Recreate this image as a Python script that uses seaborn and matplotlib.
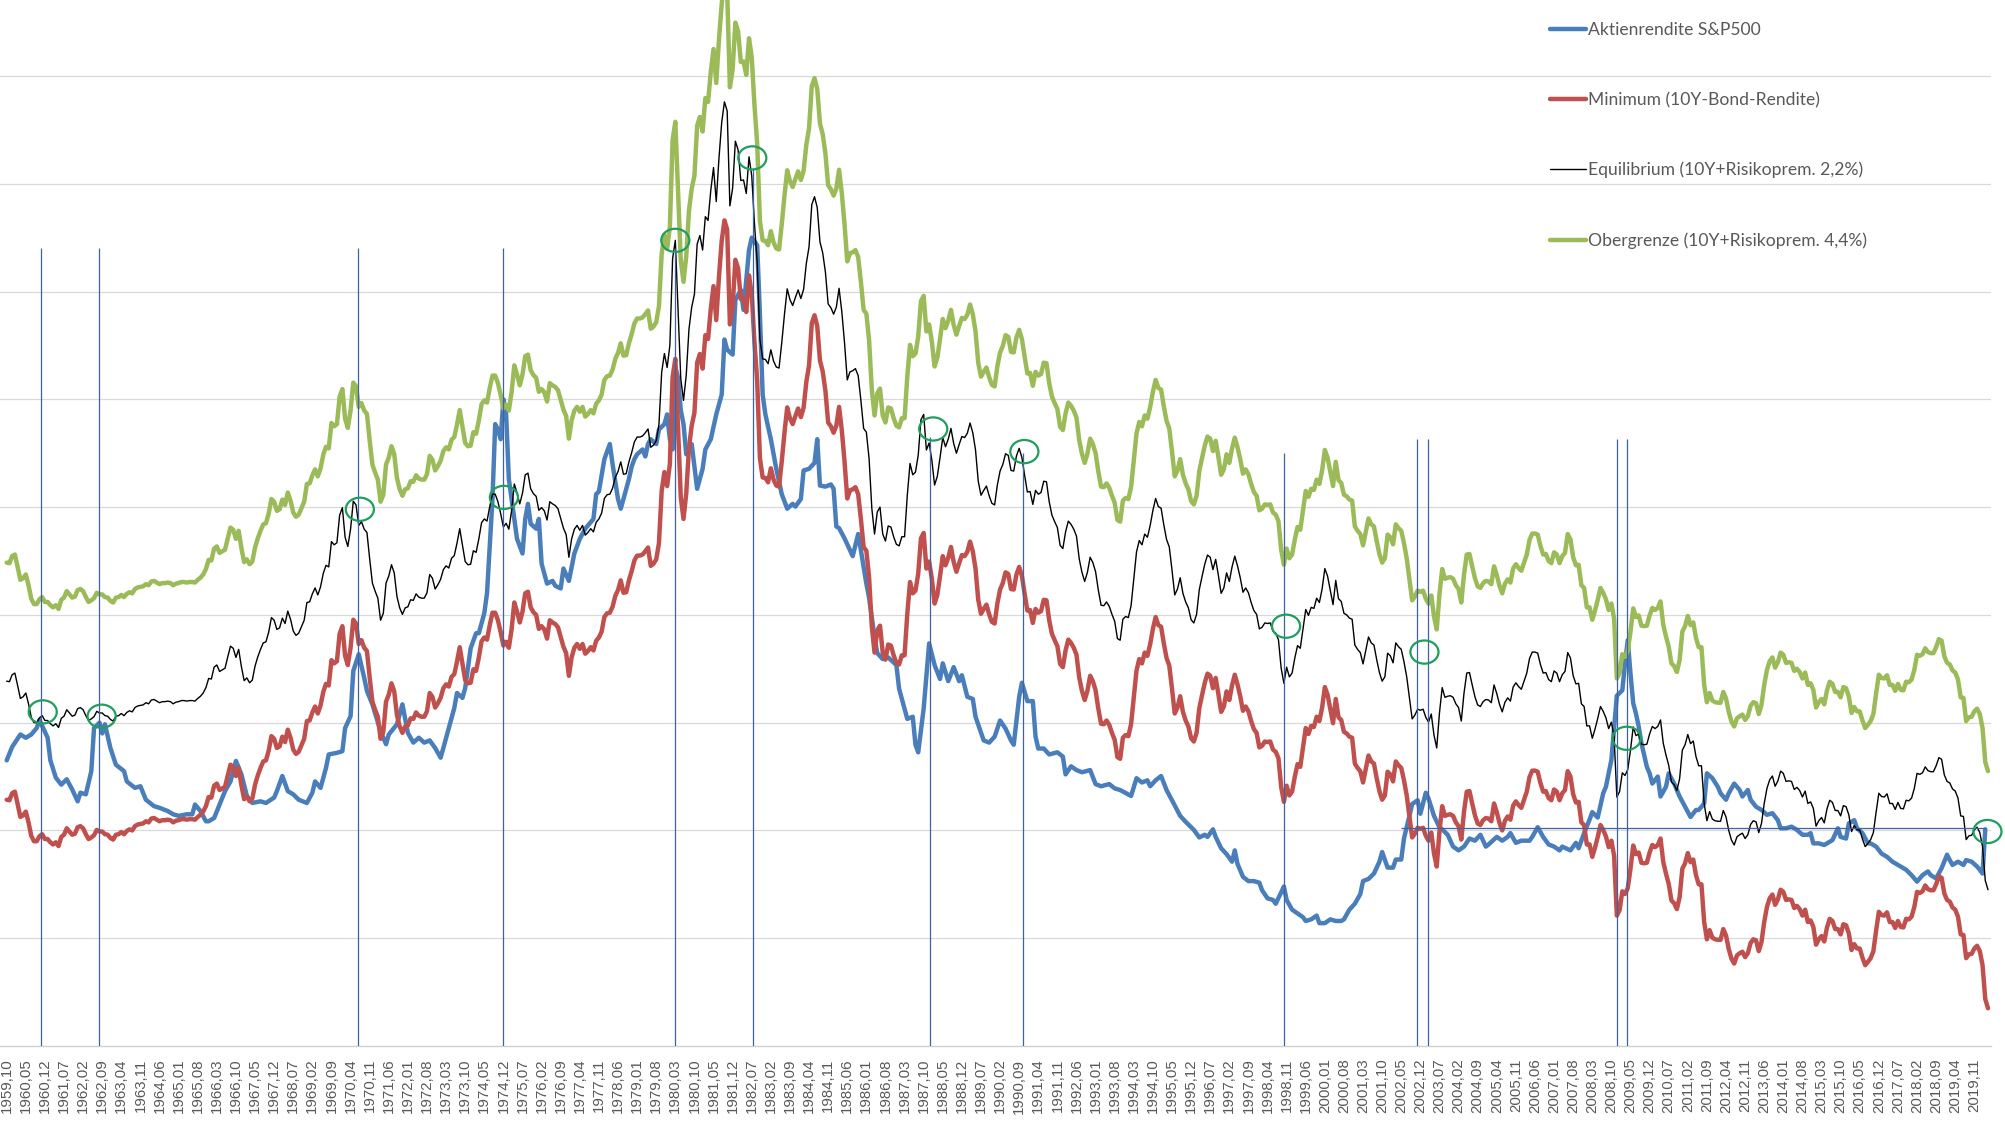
import numpy as np
import pandas as pd
import matplotlib
matplotlib.use("Agg")
import matplotlib.pyplot as plt
import seaborn as sns
from matplotlib.patches import Ellipse
from matplotlib.lines import Line2D

# ---------------- data ----------------
START_YEAR, START_MONTH = 1959, 10   # first category: 1959,10 (monthly until 2020,04)

# 10Y bond yield (%), monthly, 1959,10 .. 2020,04
bond_yield = [
    4.57, 4.56, 4.69,                                                       # 1959 Oct-Dec
    4.72, 4.49, 4.25, 4.28, 4.35, 4.15, 3.90, 3.80, 3.80, 3.89, 3.93, 3.84,  # 1960
    3.84, 3.78, 3.74, 3.78, 3.71, 3.88, 3.92, 4.04, 3.98, 3.92, 3.94, 4.06,  # 1961
    4.08, 4.04, 3.93, 3.84, 3.87, 3.91, 4.01, 3.98, 3.98, 3.93, 3.92, 3.86,  # 1962
    3.83, 3.92, 3.93, 3.97, 3.93, 3.99, 4.02, 4.00, 4.08, 4.11, 4.12, 4.13,  # 1963
    4.17, 4.15, 4.22, 4.23, 4.20, 4.17, 4.19, 4.19, 4.20, 4.19, 4.15, 4.18,  # 1964
    4.19, 4.21, 4.21, 4.20, 4.21, 4.21, 4.20, 4.25, 4.29, 4.35, 4.45, 4.62,  # 1965
    4.61, 4.83, 4.87, 4.75, 4.78, 4.81, 5.02, 5.22, 5.18, 5.01, 5.16, 4.84,  # 1966
    4.58, 4.63, 4.54, 4.59, 4.85, 5.02, 5.16, 5.28, 5.30, 5.48, 5.75, 5.70,  # 1967
    5.53, 5.56, 5.74, 5.64, 5.87, 5.72, 5.50, 5.42, 5.46, 5.58, 5.70, 6.03,  # 1968
    6.04, 6.19, 6.30, 6.17, 6.32, 6.57, 6.72, 6.69, 7.16, 7.10, 7.14, 7.65,  # 1969
    7.79, 7.24, 7.07, 7.39, 7.91, 7.84, 7.46, 7.53, 7.39, 7.33, 6.84, 6.39,  # 1970
    6.24, 6.11, 5.70, 5.83, 6.39, 6.52, 6.73, 6.58, 6.14, 5.93, 5.81, 5.93,  # 1971
    5.95, 6.08, 6.07, 6.19, 6.13, 6.11, 6.11, 6.21, 6.55, 6.48, 6.28, 6.36,  # 1972
    6.46, 6.64, 6.71, 6.67, 6.85, 6.90, 7.13, 7.40, 7.09, 6.79, 6.73, 6.74,  # 1973
    6.99, 6.96, 7.21, 7.51, 7.58, 7.54, 7.81, 8.04, 8.04, 7.90, 7.68, 7.43,  # 1974
    7.50, 7.39, 7.73, 8.23, 8.06, 7.86, 8.06, 8.40, 8.43, 8.14, 8.05, 8.00,  # 1975
    7.74, 7.79, 7.73, 7.56, 7.90, 7.86, 7.83, 7.77, 7.59, 7.41, 7.29, 6.87,  # 1976
    7.21, 7.39, 7.46, 7.37, 7.46, 7.28, 7.33, 7.40, 7.34, 7.52, 7.58, 7.69,  # 1977
    7.96, 8.03, 8.04, 8.15, 8.35, 8.46, 8.64, 8.41, 8.42, 8.64, 8.81, 9.01,  # 1978
    9.10, 9.10, 9.12, 9.18, 9.25, 8.91, 8.95, 9.03, 9.33, 10.30, 10.65, 10.39,  # 1979
    10.80, 12.41, 12.75, 11.47, 10.18, 9.78, 10.25, 11.10, 11.51, 11.75, 12.68, 12.84,  # 1980
    12.57, 13.19, 13.12, 13.68, 14.10, 13.47, 14.28, 14.94, 15.32, 15.15, 13.39, 13.72,  # 1981
    14.59, 14.43, 13.86, 13.87, 13.62, 14.30, 13.95, 13.06, 12.34, 10.91, 10.55, 10.54,  # 1982
    10.46, 10.72, 10.51, 10.40, 10.38, 10.85, 11.38, 11.85, 11.65, 11.54, 11.69, 11.83,  # 1983
    11.67, 11.84, 12.32, 12.63, 13.41, 13.56, 13.36, 12.72, 12.52, 12.16, 11.57, 11.50,  # 1984
    11.38, 11.51, 11.86, 11.43, 10.85, 10.16, 10.31, 10.33, 10.37, 10.24, 9.78, 9.26,   # 1985
    9.19, 8.70, 7.78, 7.30, 7.71, 7.80, 7.30, 7.17, 7.45, 7.43, 7.25, 7.11,  # 1986
    7.08, 7.25, 7.25, 8.02, 8.61, 8.40, 8.45, 8.76, 9.42, 9.52, 8.86, 8.99,  # 1987
    8.67, 8.21, 8.37, 8.72, 9.09, 8.92, 9.06, 9.26, 8.98, 8.80, 8.96, 9.11,  # 1988
    9.09, 9.17, 9.36, 9.18, 8.86, 8.28, 8.02, 8.11, 8.19, 8.01, 7.87, 7.84,  # 1989
    8.21, 8.47, 8.59, 8.79, 8.76, 8.48, 8.47, 8.75, 8.89, 8.72, 8.39, 8.08,  # 1990
    8.09, 7.85, 8.11, 8.04, 8.07, 8.28, 8.27, 7.90, 7.65, 7.53, 7.42, 7.09,  # 1991
    7.03, 7.34, 7.54, 7.48, 7.39, 7.26, 6.84, 6.59, 6.42, 6.59, 6.87, 6.77,  # 1992
    6.60, 6.26, 5.98, 5.97, 6.04, 5.96, 5.81, 5.68, 5.36, 5.33, 5.72, 5.77,  # 1993
    5.75, 5.97, 6.48, 6.97, 7.18, 7.10, 7.30, 7.24, 7.46, 7.74, 7.96, 7.81,  # 1994
    7.78, 7.47, 7.20, 7.06, 6.63, 6.17, 6.28, 6.49, 6.20, 6.04, 5.93, 5.71,  # 1995
    5.65, 5.81, 6.27, 6.51, 6.74, 6.91, 6.87, 6.64, 6.83, 6.53, 6.20, 6.30,  # 1996
    6.58, 6.42, 6.69, 6.89, 6.71, 6.49, 6.22, 6.30, 6.21, 6.03, 5.88, 5.81,  # 1997
    5.54, 5.57, 5.65, 5.64, 5.65, 5.50, 5.46, 5.34, 4.81, 4.53, 4.83, 4.65,  # 1998
    4.72, 5.00, 5.23, 5.18, 5.54, 5.90, 5.79, 5.94, 5.92, 6.11, 6.03, 6.28,  # 1999
    6.66, 6.52, 6.26, 5.99, 6.44, 6.10, 6.05, 5.83, 5.80, 5.74, 5.72, 5.24,  # 2000
    5.16, 5.10, 4.89, 5.14, 5.39, 5.28, 5.24, 4.97, 4.73, 4.57, 4.65, 5.09,  # 2001
    5.04, 4.91, 5.28, 5.21, 5.16, 4.93, 4.65, 4.26, 3.87, 3.94, 4.05, 4.03,  # 2002
    4.05, 3.90, 3.81, 3.96, 3.57, 3.33, 3.98, 4.45, 4.27, 4.29, 4.30, 4.27,  # 2003
    4.15, 4.08, 3.83, 4.35, 4.72, 4.73, 4.50, 4.28, 4.13, 4.10, 4.19, 4.23,  # 2004
    4.22, 4.17, 4.50, 4.34, 4.14, 4.00, 4.18, 4.26, 4.20, 4.46, 4.54, 4.47,  # 2005
    4.42, 4.57, 4.72, 4.99, 5.11, 5.11, 5.09, 4.88, 4.72, 4.73, 4.60, 4.56,  # 2006
    4.76, 4.72, 4.56, 4.69, 4.75, 5.10, 5.00, 4.67, 4.52, 4.53, 4.15, 4.10,  # 2007
    3.74, 3.74, 3.51, 3.68, 3.88, 4.10, 4.01, 3.89, 3.69, 3.81, 3.53, 2.42,  # 2008
    2.52, 2.87, 2.82, 2.93, 3.29, 3.72, 3.56, 3.59, 3.40, 3.39, 3.40, 3.59,  # 2009
    3.73, 3.69, 3.73, 3.85, 3.42, 3.20, 3.01, 2.70, 2.65, 2.54, 2.76, 3.29,  # 2010
    3.39, 3.58, 3.41, 3.46, 3.17, 3.00, 3.00, 2.30, 1.98, 2.15, 2.01, 1.98,  # 2011
    1.97, 1.97, 2.17, 2.05, 1.80, 1.62, 1.53, 1.68, 1.72, 1.75, 1.65, 1.72,  # 2012
    1.91, 1.98, 1.96, 1.76, 1.93, 2.30, 2.58, 2.74, 2.81, 2.62, 2.72, 2.90,  # 2013
    2.86, 2.71, 2.72, 2.71, 2.56, 2.60, 2.54, 2.42, 2.53, 2.30, 2.33, 2.21,  # 2014
    1.88, 1.98, 2.04, 1.94, 2.20, 2.36, 2.32, 2.17, 2.17, 2.07, 2.26, 2.24,  # 2015
    2.09, 1.78, 1.89, 1.81, 1.81, 1.64, 1.50, 1.56, 1.63, 1.76, 2.14, 2.49,  # 2016
    2.43, 2.42, 2.48, 2.30, 2.30, 2.19, 2.32, 2.21, 2.20, 2.36, 2.35, 2.40,  # 2017
    2.58, 2.86, 2.84, 2.87, 2.98, 2.91, 2.89, 2.89, 3.00, 3.15, 3.12, 2.83,  # 2018
    2.71, 2.68, 2.57, 2.53, 2.40, 2.07, 2.06, 1.63, 1.70, 1.71, 1.81, 1.86,  # 2019
    1.76, 1.50, 0.87, 0.70,                                                  # 2020 Jan-Apr
]

# risk premia named in the legend
RISK_PREMIUM_EQ = 2.2
RISK_PREMIUM_UP = 4.4

# S&P500 earnings yield (%); month index counted from 1959,10
earn_month_idx = [
    0, 2, 5, 7, 9, 11, 12, 15, 16, 18,
    20, 22, 24, 26, 27, 29, 31, 32, 34, 35,
    36, 38, 40, 43, 44, 47, 49, 51, 54, 56,
    59, 61, 63, 66, 68, 69, 71, 73, 74, 76,
    78, 80, 82, 84, 86, 88, 90, 93, 95, 98,
    99, 101, 103, 105, 107, 110, 112, 113, 115, 117,
    118, 121, 123, 124, 126, 127, 129, 131, 132, 134,
    137, 139, 140, 143, 145, 147, 149, 151, 153, 155,
    157, 159, 160, 162, 164, 165, 167, 168, 170, 172,
    173, 175, 176, 178, 179, 180, 181, 182, 183, 184,
    186, 187, 189, 190, 191, 192, 194, 195, 196, 198,
    200, 201, 203, 204, 206, 208, 210, 212, 215, 216,
    217, 219, 221, 222, 224, 225, 226, 228, 229, 230,
    231, 233, 234, 235, 236, 238, 239, 241, 242, 243,
    244, 245, 246, 247, 248, 249, 251, 253, 255, 256,
    258, 260, 262, 263, 264, 266, 267, 269, 270, 272,
    273, 275, 276, 277, 278, 280, 282, 284, 286, 288,
    289, 291, 292, 294, 296, 297, 298, 300, 302, 303,
    304, 305, 307, 310, 312, 313, 315, 316, 318, 319,
    321, 323, 326, 327, 330, 332, 333, 334, 336, 338,
    340, 342, 343, 345, 347, 349, 350, 352, 354, 355,
    358, 360, 362, 364, 366, 368, 369, 371, 372, 374,
    376, 377, 378, 380, 382, 385, 387, 388, 390, 392,
    394, 397, 399, 401, 404, 406, 408, 412, 414, 416,
    418, 419, 421, 423, 425, 427, 430, 432, 435, 437,
    439, 440, 442, 443, 445, 447, 449, 450, 451, 453,
    455, 457, 459, 460, 462, 464, 465, 467, 468, 469,
    471, 473, 475, 476, 478, 480, 481, 483, 485, 487,
    489, 490, 492, 494, 496, 497, 499, 501, 503, 504,
    506, 508, 509, 511, 512, 514, 515, 517, 518, 520,
    521, 523, 525, 526, 528, 530, 532, 534, 536, 538,
    540, 542, 543, 546, 548, 550, 551, 553, 555, 558,
    559, 561, 563, 565, 567, 569, 570, 573, 575, 576,
    578, 580, 581, 583, 585, 586, 588, 589, 590, 592,
    593, 594, 595, 596, 597, 598, 599, 601, 602, 603,
    605, 606, 608, 609, 611, 613, 615, 617, 619, 620,
    622, 623, 625, 627, 628, 630, 631, 633, 635, 636,
    638, 639, 641, 643, 645, 647, 649, 650, 652, 654,
    656, 658, 660, 661, 662, 664, 666, 667, 669, 671,
    672, 674, 675, 677, 678, 680, 682, 683, 685, 687,
    689, 691, 693, 694, 696, 698, 700, 702, 704, 705,
    707, 709, 711, 712, 713, 715, 717, 718, 720, 722,
    723, 724, 725,
]
earn_yield = [
    5.30, 5.55, 5.78, 5.72, 5.78, 5.90, 6.05, 5.72, 5.30, 4.98,
    4.85, 4.95, 4.76, 4.54, 4.70, 4.67, 5.10, 5.90, 6.00, 5.80,
    5.97, 5.53, 5.22, 5.10, 4.91, 4.79, 4.82, 4.57, 4.45, 4.42,
    4.36, 4.30, 4.27, 4.30, 4.30, 4.48, 4.36, 4.17, 4.17, 4.23,
    4.48, 4.73, 4.91, 5.29, 5.04, 4.64, 4.51, 4.54, 4.51, 4.61,
    4.73, 5.01, 4.73, 4.67, 4.57, 4.51, 4.70, 4.91, 4.79, 5.16,
    5.41, 5.44, 5.47, 5.90, 6.12, 6.96, 7.27, 6.83, 6.59, 6.34,
    5.84, 5.60, 5.78, 5.97, 6.34, 5.81, 5.63, 5.72, 5.63, 5.67,
    5.53, 5.35, 5.53, 5.90, 6.27, 6.55, 6.46, 6.64, 7.38, 7.66,
    7.66, 8.03, 8.40, 10.15, 11.54, 11.44, 11.26, 12.00, 11.72, 10.52,
    9.78, 9.41, 9.14, 9.78, 10.06, 9.69, 9.60, 9.78, 8.95, 8.58,
    8.63, 8.54, 8.49, 8.86, 8.63, 9.14, 9.41, 9.60, 9.78, 10.24,
    10.29, 10.89, 11.17, 10.80, 10.15, 9.97, 10.15, 10.52, 10.75, 10.89,
    10.98, 11.07, 10.94, 11.17, 11.26, 11.17, 11.44, 11.54, 11.72, 11.26,
    11.07, 12.60, 12.40, 11.80, 11.54, 10.98, 11.17, 10.34, 10.71, 11.07,
    11.26, 11.72, 12.09, 13.11, 12.92, 12.83, 13.84, 14.03, 13.66, 14.77,
    15.00, 14.86, 13.57, 12.09, 11.72, 11.26, 10.71, 10.24, 9.97, 10.06,
    10.01, 10.15, 10.68, 10.71, 10.82, 11.26, 10.40, 10.38, 10.42, 10.34,
    9.64, 9.61, 9.42, 9.09, 9.50, 9.20, 8.58, 8.32, 7.58, 7.29,
    7.18, 7.21, 7.07, 6.63, 6.07, 6.11, 5.59, 5.45, 6.26, 7.47,
    7.07, 6.81, 7.10, 6.77, 7.03, 6.77, 6.88, 6.48, 6.44, 6.11,
    5.67, 5.63, 5.74, 6.04, 5.89, 5.67, 5.59, 6.48, 6.74, 6.40,
    6.40, 5.74, 5.52, 5.52, 5.41, 5.45, 5.37, 5.04, 5.19, 5.12,
    5.08, 5.12, 4.86, 4.82, 4.86, 4.78, 4.75, 4.64, 4.97, 4.89,
    4.93, 4.82, 4.93, 5.01, 4.75, 4.56, 4.27, 4.16, 4.01, 3.87,
    3.92, 3.88, 4.02, 3.88, 3.67, 3.56, 3.42, 3.63, 3.38, 3.14,
    3.06, 3.06, 3.03, 2.89, 2.74, 2.71, 2.64, 2.85, 2.96, 2.71,
    2.53, 2.46, 2.39, 2.32, 2.35, 2.42, 2.28, 2.28, 2.35, 2.32,
    2.32, 2.35, 2.53, 2.64, 2.82, 3.06, 3.10, 3.20, 3.42, 3.60,
    3.31, 3.31, 3.46, 3.46, 3.85, 4.27, 4.49, 4.56, 4.31, 4.70,
    4.59, 4.27, 4.06, 4.02, 3.92, 3.70, 3.63, 3.70, 3.85, 3.81,
    3.92, 3.70, 3.74, 3.88, 3.81, 3.88, 3.95, 3.77, 3.81, 3.81,
    3.88, 4.06, 3.88, 3.74, 3.70, 3.63, 3.70, 3.63, 3.77, 3.67,
    3.95, 4.20, 4.34, 4.24, 4.69, 4.81, 5.31, 5.90, 6.50, 6.60,
    7.10, 7.53, 6.91, 6.36, 6.17, 5.93, 5.62, 5.18, 5.06, 4.87,
    5.00, 4.63, 4.81, 5.06, 4.87, 4.63, 4.44, 4.25, 4.38, 4.38,
    4.50, 5.06, 4.97, 4.81, 4.69, 4.57, 4.69, 4.87, 4.75, 4.63,
    4.75, 4.57, 4.44, 4.38, 4.29, 4.32, 4.19, 4.04, 4.04, 4.07,
    4.01, 3.92, 3.92, 3.95, 3.76, 3.76, 3.73, 3.76, 3.82, 4.04,
    3.88, 3.85, 4.13, 4.19, 4.04, 3.95, 3.76, 3.76, 3.70, 3.57,
    3.51, 3.42, 3.36, 3.33, 3.27, 3.17, 3.05, 3.17, 3.24, 3.17,
    3.11, 3.30, 3.55, 3.45, 3.36, 3.42, 3.36, 3.45, 3.42, 3.33,
    3.27, 3.20, 4.02,
]

series_labels = [
    "Aktienrendite S&P500",
    "Minimum (10Y-Bond-Rendite)",
    "Equilibrium (10Y+Risikoprem. 2,2%)",
    "Obergrenze (10Y+Risikoprem. 4,4%)",
]

# annotations drawn on the chart (month index, value %)
mark_vlines_month = [12.5, 34.0, 128.8, 181.7, 245.0, 273.5, 338.2, 372.5, 468.2, 516.8, 520.9, 590.2, 593.7]
mark_vlines_top = [14.8, 14.8, 14.8, 14.8, 14.8, 16.3, 11.3, 11.0, 11.0, 11.27, 11.27, 11.27, 11.27]
mark_hline = (4.04, 511.0, 725.4)
mark_circles = [(13.2, 6.20), (34.8, 6.12), (129.4, 9.96), (182.2, 10.18), (245.0, 14.95),
                (273.2, 16.48), (339.5, 11.45), (372.9, 11.03), (468.8, 7.79), (519.5, 7.31),
                (593.6, 5.71), (725.8, 3.98)]

assert len(earn_month_idx) == len(earn_yield)

# ---------------- derived tables ----------------
n = len(bond_yield)
month_labels = []
for i in range(n):
    y = START_YEAR + (START_MONTH - 1 + i) // 12
    mth = (START_MONTH - 1 + i) % 12 + 1
    month_labels.append(f"{y},{mth:02d}")

df = pd.DataFrame({
    "m": np.arange(n),
    "bond": bond_yield,
})
df["equi"] = df["bond"] + RISK_PREMIUM_EQ
df["upper"] = df["bond"] + RISK_PREMIUM_UP
df_earn = pd.DataFrame({"m": earn_month_idx, "earn": earn_yield})

# ---------------- style ----------------
sns.set_theme(style="white")
plt.rcParams["font.family"] = ["Liberation Sans", "DejaVu Sans"]

C_BLUE = "#4a7ebb"
C_RED = "#c0504d"
C_GREEN = "#9bbb59"
C_BLACK = "#000000"
C_TEXT = "#595959"
C_GRID = "#d9d9d9"
C_MARK = "#3f63a0"
C_CIRC = "#1f9e5e"

W, H = 2005, 1125
fig = plt.figure(figsize=(W / 100, H / 100), dpi=100)
ax = fig.add_axes([0, (H - 1046) / H, 1991 / W, 1046 / H])

sns.lineplot(data=df_earn, x="m", y="earn", ax=ax, color=C_BLUE, lw=3.2, zorder=2, estimator=None)
sns.lineplot(data=df, x="m", y="bond", ax=ax, color=C_RED, lw=3.2, zorder=3, estimator=None)
sns.lineplot(data=df, x="m", y="equi", ax=ax, color=C_BLACK, lw=1.0, zorder=4, estimator=None)
sns.lineplot(data=df, x="m", y="upper", ax=ax, color=C_GREEN, lw=3.2, zorder=5, estimator=None)

ax.set_xlim(-2.455, 727.1)
ax.set_ylim(0, 19.41)

ax.set_yticks(np.arange(2, 19, 2))
ax.tick_params(axis="y", left=False, labelleft=False)
ax.grid(axis="y", color=C_GRID, lw=0.9)
ax.grid(axis="x", visible=False)
ax.set_axisbelow(True)
for s in ["left", "right", "top"]:
    ax.spines[s].set_visible(False)
ax.spines["bottom"].set_color("#d0d0d0")
ax.spines["bottom"].set_linewidth(1.0)

tick_pos = list(range(0, n, 7))
ax.set_xticks(tick_pos)
ax.set_xticklabels([month_labels[i] for i in tick_pos], rotation=90, fontsize=10.8,
                   color=C_TEXT, family=["Liberation Sans", "DejaVu Sans"])
ax.tick_params(axis="x", length=0, pad=9)
ax.set_xlabel("")
ax.set_ylabel("")

# annotation lines and circles
ax.vlines(mark_vlines_month, 0, mark_vlines_top, color=C_MARK, lw=0.9, zorder=6)
ax.hlines(mark_hline[0], mark_hline[1], mark_hline[2], color=C_MARK, lw=0.9, zorder=6)
for (mx, my) in mark_circles:
    e = Ellipse((mx, my), width=10.3, height=0.43, fill=False, edgecolor=C_CIRC,
                lw=1.6, zorder=7, clip_on=False)
    ax.add_patch(e)

# legend
handles = [
    Line2D([], [], color=C_BLUE, lw=3.2),
    Line2D([], [], color=C_RED, lw=3.2),
    Line2D([], [], color=C_BLACK, lw=1.0),
    Line2D([], [], color=C_GREEN, lw=3.2),
]
fig.legend(handles, series_labels, loc="upper left",
           bbox_to_anchor=(1550 / W, 1 - 22 / H), bbox_transform=fig.transFigure,
           frameon=False, prop={"family": ["Lato", "DejaVu Sans"], "size": 12.6},
           labelcolor=C_TEXT, labelspacing=3.08, handlelength=2.05, handletextpad=0.12,
           borderpad=0, borderaxespad=0)

fig.savefig("out.png", dpi=100)
